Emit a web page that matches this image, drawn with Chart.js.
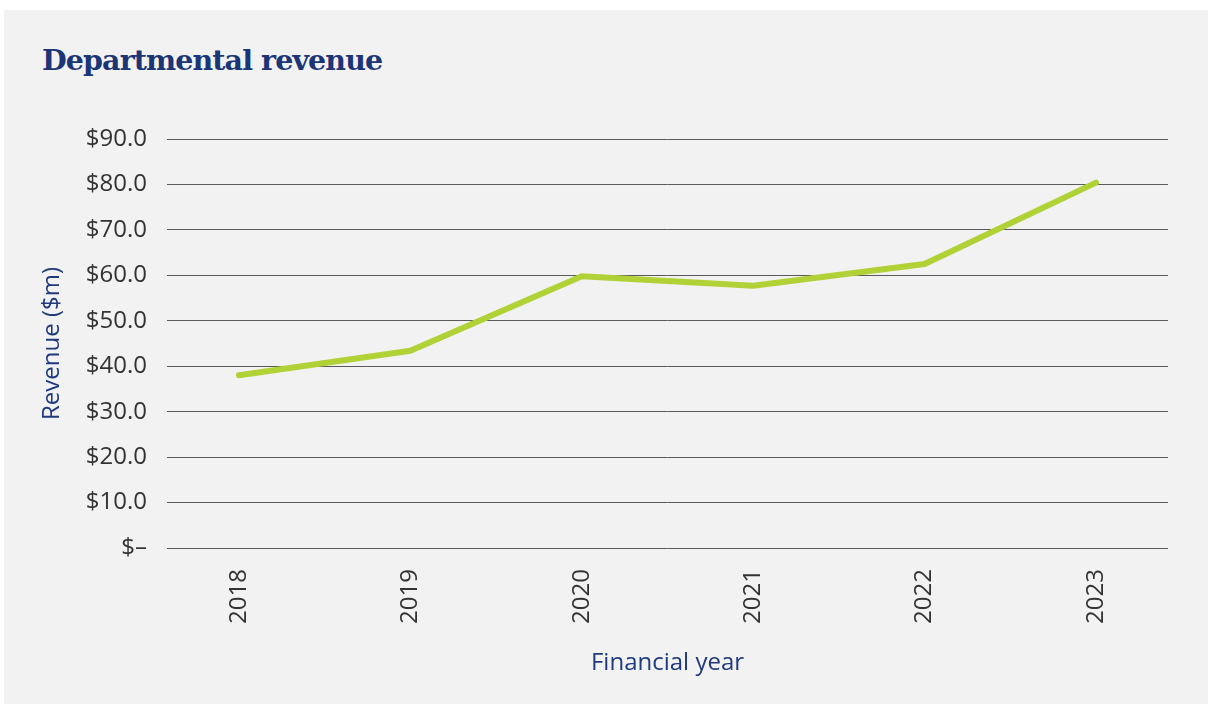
<!DOCTYPE html>
<html>
<head>
<meta charset="utf-8">
<script src="https://cdn.jsdelivr.net/npm/chart.js@4"></script>
<style>
  html, body { margin: 0; padding: 0; background: #ffffff; }
  #card {
    position: absolute; left: 4px; top: 10px; width: 1204px; height: 694px;
    background: #f2f2f2;
  }
  #title {
    position: absolute; left: 42px; top: 40px; margin: 0;
    font-family: "DejaVu Serif", serif; font-weight: bold; font-size: 28.5px;
    color: #1b3577; line-height: 40px; white-space: nowrap; letter-spacing: -0.9px;
  }
  #wrap { position: absolute; left: 0; top: 0; width: 1214px; height: 708px; }
</style>
</head>
<body>
<div id="card"></div>
<h1 id="title">Departmental revenue</h1>
<div id="wrap"><canvas id="revenueChart"></canvas></div>
<script>
// data
var years   = [2018, 2019, 2020, 2021, 2022, 2023];
var revenue = [38.0, 43.4, 59.8, 57.7, 62.5, 80.4];
var yTicks  = [0, 10, 20, 30, 40, 50, 60, 70, 80, 90];

var navy = "#203a7e";
var lime = "#b1d236";

var points = [];
for (var i = 0; i < years.length; i++) {
  points.push({ x: years[i], y: revenue[i] });
}

var ctx = document.getElementById('revenueChart').getContext('2d');
var revenueChart = new Chart(ctx, {
  type: 'line',
  data: {
    datasets: [{
      label: 'Revenue',
      data: points,
      borderColor: lime,
      backgroundColor: lime,
      borderWidth: 6,
      pointRadius: 0,
      tension: 0,
      borderCapStyle: 'round',
      borderJoinStyle: 'round',
      fill: false
    }]
  },
  options: {
    responsive: true,
    maintainAspectRatio: false,
    animation: false,
    layout: { padding: { left: 0, top: 139, right: 46, bottom: 28 } },
    plugins: {
      legend: { display: false },
      tooltip: { enabled: false }
    },
    scales: {
      x: {
        type: 'linear',
        min: 2017.58,
        max: 2023.42,
        afterBuildTicks: function (scale) {
          scale.ticks = years.map(function (v) { return { value: v }; });
        },
        afterFit: function (scale) { scale.height = 132; },
        grid: { display: false, drawTicks: false },
        border: { display: false },
        ticks: {
          autoSkip: false,
          minRotation: 90,
          maxRotation: 90,
          padding: 21,
          color: '#333333',
          font: { family: 'Open Sans', size: 24 },
          callback: function (v) { return String(v); }
        },
        title: {
          display: true,
          text: 'Financial year',
          color: navy,
          font: { family: 'Open Sans', size: 24 },
          padding: { top: 0, bottom: 2 }
        }
      },
      y: {
        min: 0,
        max: 90,
        afterBuildTicks: function (scale) {
          scale.ticks = yTicks.map(function (v) { return { value: v }; });
        },
        afterFit: function (scale) { scale.width = 167; },
        grid: { color: '#5a5a5a', lineWidth: 1, drawTicks: false },
        border: { display: false },
        ticks: {
          padding: 20,
          color: '#333333',
          font: { family: 'Open Sans', size: 24 },
          callback: function (v) { return v === 0 ? '$\u2013' : '$' + v.toFixed(1); }
        },
        title: {
          display: true,
          text: 'Revenue ($m)',
          color: navy,
          font: { family: 'Open Sans', size: 24 },
          padding: { top: 38, bottom: 0 }
        }
      }
    }
  }
});
</script>
</body>
</html>
